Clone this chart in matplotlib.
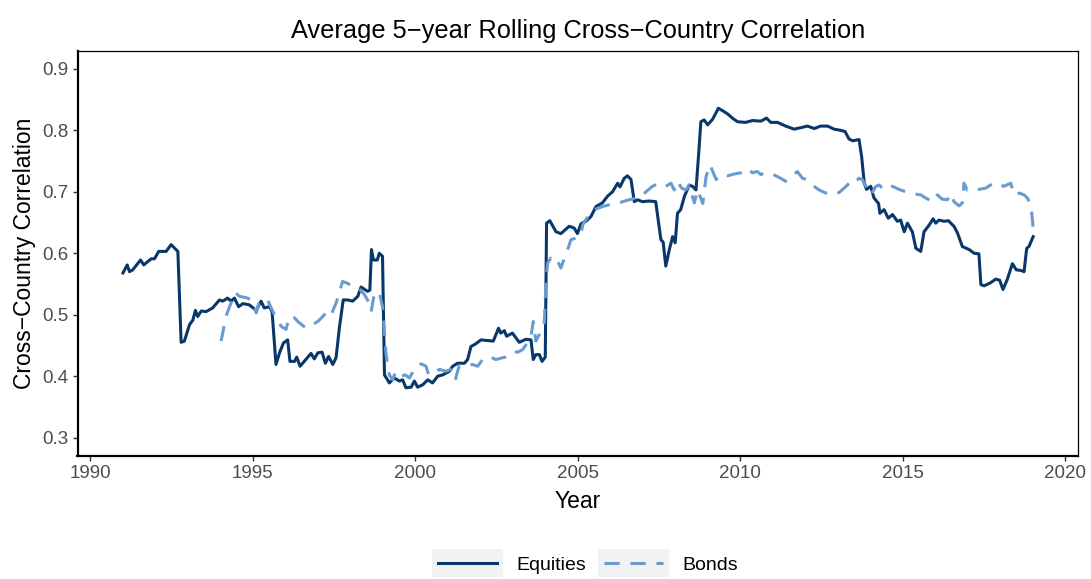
import matplotlib
matplotlib.use("Agg")
import matplotlib.pyplot as plt
from matplotlib.legend_handler import HandlerLine2D
from matplotlib.patches import Rectangle
from matplotlib.lines import Line2D

plt.rcParams['font.family'] = ['Liberation Sans', 'DejaVu Sans']

eq_year = [1991.0, 1991.13, 1991.2, 1991.3, 1991.54, 1991.64, 1991.87, 1991.97, 1992.1, 1992.33,
           1992.48, 1992.69, 1992.79, 1992.89, 1993.05, 1993.15, 1993.23, 1993.3, 1993.41, 1993.56,
           1993.76, 1993.97, 1994.07, 1994.22, 1994.33, 1994.43, 1994.56, 1994.69, 1994.89, 1995.1,
           1995.25, 1995.35, 1995.51, 1995.59, 1995.71, 1995.82, 1995.94, 1996.07, 1996.14, 1996.28,
           1996.35, 1996.45, 1996.58, 1996.79, 1996.89, 1997.0, 1997.13, 1997.23, 1997.33, 1997.46,
           1997.56, 1997.66, 1997.78, 1997.92, 1998.07, 1998.23, 1998.33, 1998.53, 1998.6, 1998.65,
           1998.71, 1998.83, 1998.89, 1998.99, 1999.05, 1999.2, 1999.35, 1999.51, 1999.61, 1999.71,
           1999.87, 1999.97, 2000.07, 2000.23, 2000.38, 2000.53, 2000.69, 2000.84, 2001.05, 2001.15,
           2001.3, 2001.51, 2001.61, 2001.71, 2001.87, 2002.02, 2002.22, 2002.4, 2002.56, 2002.63,
           2002.74, 2002.81, 2002.99, 2003.2, 2003.4, 2003.56, 2003.63, 2003.71, 2003.82, 2003.9,
           2004.0, 2004.04, 2004.14, 2004.33, 2004.48, 2004.74, 2004.89, 2004.99, 2005.1, 2005.25,
           2005.41, 2005.56, 2005.76, 2005.92, 2006.07, 2006.23, 2006.3, 2006.43, 2006.53, 2006.64,
           2006.74, 2006.84, 2006.99, 2007.2, 2007.4, 2007.56, 2007.63, 2007.71, 2007.82, 2007.92,
           2008.0, 2008.07, 2008.17, 2008.28, 2008.43, 2008.53, 2008.64, 2008.72, 2008.79, 2008.89,
           2009.0, 2009.15, 2009.33, 2009.46, 2009.61, 2009.76, 2009.92, 2010.17, 2010.38, 2010.64,
           2010.81, 2010.94, 2011.15, 2011.4, 2011.66, 2011.92, 2012.07, 2012.28, 2012.48, 2012.69,
           2012.89, 2013.1, 2013.23, 2013.35, 2013.46, 2013.66, 2013.74, 2013.82, 2013.89, 2014.02,
           2014.12, 2014.26, 2014.3, 2014.43, 2014.56, 2014.69, 2014.84, 2014.94, 2015.05, 2015.15,
           2015.3, 2015.41, 2015.56, 2015.66, 2015.82, 2015.94, 2016.02, 2016.12, 2016.28, 2016.41,
           2016.58, 2016.69, 2016.84, 2017.05, 2017.2, 2017.35, 2017.41, 2017.51, 2017.71, 2017.87,
           2017.99, 2018.09, 2018.22, 2018.38, 2018.5, 2018.64, 2018.74, 2018.82, 2018.89, 2019.02]
eq_val = [0.568, 0.581, 0.570, 0.573, 0.589, 0.581, 0.591, 0.591, 0.603, 0.603,
          0.614, 0.603, 0.455, 0.457, 0.484, 0.491, 0.507, 0.497, 0.506, 0.505,
          0.511, 0.524, 0.522, 0.527, 0.522, 0.527, 0.513, 0.518, 0.516, 0.507,
          0.522, 0.511, 0.513, 0.505, 0.419, 0.438, 0.454, 0.459, 0.424, 0.424,
          0.431, 0.416, 0.424, 0.437, 0.428, 0.438, 0.439, 0.421, 0.432, 0.419,
          0.430, 0.478, 0.524, 0.524, 0.522, 0.530, 0.545, 0.538, 0.540, 0.606,
          0.589, 0.589, 0.600, 0.595, 0.402, 0.389, 0.397, 0.392, 0.394, 0.381,
          0.382, 0.392, 0.382, 0.386, 0.394, 0.389, 0.400, 0.402, 0.408, 0.416,
          0.421, 0.421, 0.427, 0.448, 0.453, 0.459, 0.458, 0.457, 0.478, 0.470,
          0.474, 0.465, 0.470, 0.455, 0.460, 0.459, 0.427, 0.435, 0.435, 0.424,
          0.431, 0.649, 0.653, 0.635, 0.632, 0.644, 0.641, 0.632, 0.648, 0.652,
          0.660, 0.676, 0.682, 0.693, 0.700, 0.714, 0.708, 0.722, 0.726, 0.720,
          0.684, 0.687, 0.684, 0.685, 0.684, 0.622, 0.618, 0.579, 0.606, 0.627,
          0.617, 0.665, 0.671, 0.692, 0.711, 0.709, 0.703, 0.760, 0.814, 0.817,
          0.809, 0.818, 0.836, 0.832, 0.827, 0.820, 0.814, 0.813, 0.816, 0.815,
          0.820, 0.813, 0.813, 0.807, 0.802, 0.805, 0.807, 0.803, 0.807, 0.807,
          0.802, 0.800, 0.798, 0.786, 0.783, 0.785, 0.757, 0.714, 0.704, 0.709,
          0.690, 0.681, 0.665, 0.671, 0.657, 0.663, 0.652, 0.654, 0.635, 0.649,
          0.635, 0.608, 0.603, 0.635, 0.646, 0.656, 0.649, 0.654, 0.652, 0.653,
          0.644, 0.633, 0.611, 0.606, 0.600, 0.599, 0.549, 0.547, 0.552, 0.558,
          0.556, 0.541, 0.557, 0.583, 0.573, 0.572, 0.570, 0.608, 0.611, 0.627]

bd_year = [1994.02, 1994.17, 1994.28, 1994.46, 1994.58, 1994.84, 1995.0, 1995.1, 1995.2, 1995.46,
           1995.59, 1995.71, 1995.87, 1996.02, 1996.12, 1996.28, 1996.4, 1996.64, 1996.84, 1997.0,
           1997.15, 1997.3, 1997.41, 1997.56, 1997.76, 1997.92, 1998.07, 1998.28, 1998.43, 1998.58,
           1998.64, 1998.74, 1998.89, 1998.99, 1999.1, 1999.2, 1999.3, 1999.4, 1999.56, 1999.69,
           1999.82, 2000.02, 2000.18, 2000.33, 2000.41, 2000.58, 2000.74, 2000.94, 2001.1, 2001.23,
           2001.35, 2001.56, 2001.76, 2001.92, 2002.07, 2002.28, 2002.48, 2002.69, 2002.84, 2003.0,
           2003.15, 2003.3, 2003.45, 2003.56, 2003.63, 2003.71, 2003.87, 2003.97, 2004.02, 2004.07,
           2004.17, 2004.28, 2004.38, 2004.48, 2004.59, 2004.69, 2004.79, 2004.95, 2005.1, 2005.15,
           2005.35, 2005.56, 2005.76, 2005.97, 2006.18, 2006.38, 2006.58, 2006.79, 2006.94, 2007.1,
           2007.3, 2007.51, 2007.71, 2007.87, 2007.97, 2008.07, 2008.2, 2008.33, 2008.43, 2008.59,
           2008.69, 2008.85, 2008.95, 2009.07, 2009.26, 2009.41, 2009.61, 2009.82, 2010.02, 2010.23,
           2010.38, 2010.53, 2010.64, 2010.74, 2010.94, 2011.1, 2011.25, 2011.4, 2011.51, 2011.76,
           2011.92, 2012.07, 2012.22, 2012.43, 2012.64, 2012.84, 2013.05, 2013.2, 2013.3, 2013.46,
           2013.56, 2013.66, 2013.76, 2013.87, 2014.02, 2014.18, 2014.28, 2014.43, 2014.69, 2014.89,
           2015.1, 2015.3, 2015.56, 2015.71, 2015.92, 2016.07, 2016.22, 2016.38, 2016.48, 2016.58,
           2016.74, 2016.84, 2016.89, 2016.99, 2017.15, 2017.35, 2017.56, 2017.76, 2017.92, 2018.02,
           2018.12, 2018.33, 2018.43, 2018.59, 2018.74, 2018.84, 2018.95, 2019.02]
bd_val = [0.457, 0.497, 0.513, 0.536, 0.530, 0.527, 0.522, 0.503, 0.522, 0.523,
          0.508, 0.495, 0.481, 0.476, 0.497, 0.495, 0.488, 0.478, 0.484, 0.489,
          0.497, 0.506, 0.500, 0.519, 0.554, 0.551, 0.545, 0.542, 0.533, 0.519,
          0.505, 0.535, 0.536, 0.513, 0.435, 0.402, 0.394, 0.408, 0.400, 0.402,
          0.397, 0.416, 0.420, 0.416, 0.402, 0.405, 0.411, 0.408, 0.411, 0.394,
          0.417, 0.417, 0.419, 0.416, 0.427, 0.432, 0.427, 0.430, 0.432, 0.440,
          0.439, 0.443, 0.454, 0.465, 0.489, 0.457, 0.473, 0.487, 0.552, 0.584,
          0.592, 0.584, 0.587, 0.576, 0.592, 0.606, 0.622, 0.625, 0.630, 0.646,
          0.663, 0.672, 0.676, 0.679, 0.680, 0.684, 0.687, 0.690, 0.692, 0.700,
          0.709, 0.714, 0.709, 0.714, 0.703, 0.717, 0.706, 0.703, 0.711, 0.682,
          0.703, 0.681, 0.725, 0.744, 0.720, 0.728, 0.726, 0.729, 0.731, 0.738,
          0.731, 0.733, 0.728, 0.731, 0.730, 0.726, 0.722, 0.717, 0.722, 0.733,
          0.722, 0.720, 0.711, 0.703, 0.698, 0.695, 0.699, 0.706, 0.711, 0.720,
          0.717, 0.722, 0.720, 0.709, 0.695, 0.709, 0.711, 0.703, 0.709, 0.704,
          0.700, 0.697, 0.695, 0.690, 0.684, 0.695, 0.688, 0.687, 0.697, 0.684,
          0.677, 0.682, 0.714, 0.703, 0.706, 0.704, 0.706, 0.713, 0.709, 0.711,
          0.709, 0.714, 0.695, 0.698, 0.695, 0.690, 0.679, 0.641]

series_names = ["Equities", "Bonds"]
x_ticks = [1990, 1995, 2000, 2005, 2010, 2015, 2020]
y_ticks = [0.3, 0.4, 0.5, 0.6, 0.7, 0.8, 0.9]

EQ_COL = '#08386A'
BD_COL = '#6A9BD0'


class KeyHandler(HandlerLine2D):
    def create_artists(self, legend, orig_handle, xdescent, ydescent, width, height, fontsize, trans):
        padx, pady = 4.5, 5.5
        rect = Rectangle((-xdescent - padx, -ydescent - pady), width + 2 * padx, height + 2 * pady,
                         facecolor='#F2F2F2', edgecolor='none', transform=trans)
        arts = super().create_artists(legend, orig_handle, xdescent, ydescent, width, height, fontsize, trans)
        return [rect] + list(arts)


fig = plt.figure(figsize=(10.91, 5.79), dpi=100)
ax = fig.add_axes([77.5 / 1091, 1 - 456 / 579, (1078 - 77.5) / 1091, (456 - 50.5) / 579])

ax.plot(eq_year, eq_val, color=EQ_COL, lw=2.2, solid_joinstyle='round', label=series_names[0])
ax.plot(bd_year, bd_val, color=BD_COL, lw=2.2, dashes=(5, 3.5), label=series_names[1])

ax.set_xlim(1989.6, 2020.4)
ax.set_ylim(0.27, 0.93)
ax.set_xticks(x_ticks)
ax.set_yticks(y_ticks)
ax.set_yticklabels([f"{v:.1f}" for v in y_ticks])
ax.tick_params(direction='out', length=3.5, width=1.0, color='#333333', labelcolor='#4D4D4D',
               labelsize=13.5, pad=3)
for s in ax.spines.values():
    s.set_color('black')
    s.set_linewidth(0.9)
ax.spines['left'].set_linewidth(1.6)
ax.spines['bottom'].set_linewidth(1.6)

ax.set_xlabel("Year", fontsize=16.5, labelpad=5.5)
ax.set_ylabel("Cross\u2212Country Correlation", fontsize=16.5, labelpad=4.5)
ax.set_title("Average 5\u2212year Rolling Cross\u2212Country Correlation", fontsize=18.3, pad=9)

h_eq = Line2D([], [], color=EQ_COL, lw=2.2)
h_bd = Line2D([], [], color=BD_COL, lw=2.2, dashes=(5, 3.5))
leg = fig.legend([h_eq, h_bd], series_names, loc='center', bbox_to_anchor=(588 / 1091, 1 - 565 / 579),
                 ncol=2, frameon=False, fontsize=14, handlelength=3.0, handletextpad=1.0,
                 columnspacing=0.95, handler_map={Line2D: KeyHandler()})

fig.savefig("out.png", dpi=100)
